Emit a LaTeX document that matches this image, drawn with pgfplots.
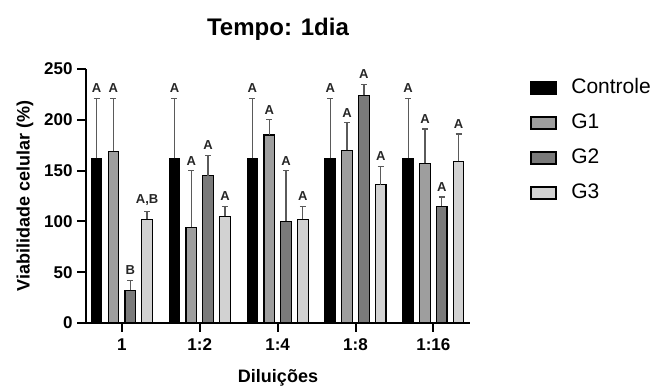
\documentclass[border=0pt]{standalone}
\usepackage{pgfplots}
\pgfplotsset{compat=1.18}
\usepackage{fontspec}
\setmainfont{Liberation Sans}
\definecolor{cG1}{HTML}{9E9E9E}
\definecolor{cG2}{HTML}{7A7A7A}
\definecolor{cG3}{HTML}{D2D2D2}
\definecolor{errc}{HTML}{5A5A5A}
\begin{document}
\begin{tikzpicture}
\useasboundingbox (0,0) rectangle (650pt,387pt);
\begin{axis}[
  at={(86pt,64pt)}, anchor=south west,
  scale only axis, width=384pt, height=254pt,
  xmin=-0.46, xmax=4.47, ymin=0, ymax=250,
  axis lines=left, axis line style={-, line width=2pt, black},
  xtick={0,1,2,3,4}, xticklabels={1,1:2,1:4,1:8,1:16},
  ytick={0,50,100,150,200,250},
  tick style={line width=2pt, black},
  tick align=outside, major tick length=9pt,
  /pgf/number format/assume math mode=true,
  ticklabel style={font=\fontsize{17}{20}\selectfont\bfseries},
  xticklabel style={yshift=-3pt},
  yticklabel style={xshift=-1pt},
  title={Tempo: 1dia},
  title style={font=\fontsize{24}{28}\selectfont\bfseries, at={(axis description cs:0.5,1)}, yshift=19pt},
  xlabel={Diluições},
  xlabel style={font=\fontsize{18}{21}\selectfont\bfseries, yshift=-12pt},
  ylabel={Viabilidade celular (\%)},
  ylabel style={font=\fontsize{18}{21}\selectfont\bfseries, yshift=4pt},
  legend style={at={(axis description cs:1.148,0.975)}, anchor=north west, draw=none, fill=none,
    font=\fontsize{21}{24}\selectfont, row sep=14pt,
    nodes={text height=14pt, text depth=3pt}},
  legend cell align=left,
  legend image code/.code={\draw[#1, line width=1.5pt] (0pt,-6pt) rectangle (25pt,6pt); \path (38pt,0pt);},
  error bars/y dir=plus, error bars/y explicit,
  error bars/error bar style={errc, line width=1.3pt},
  error bars/error mark options={errc, rotate=90, mark size=3pt, line width=1.3pt},
]
% Controle
\addplot[ybar, bar width=0.135, bar shift=0pt, fill=black, draw=black, line width=1.2pt]
 table[x=x, y=y, y error=e]{
x y e
-0.324 162 59
0.676 162 59
1.676 162 59
2.676 162 59
3.676 162 59
};
\addlegendentry{Controle}
% G1
\addplot[ybar, bar width=0.135, bar shift=0pt, fill=cG1, draw=black, line width=1.2pt]
 table[x=x, y=y, y error=e]{
x y e
-0.108 169 52
0.892 94 56
1.892 185 15
2.892 170 27
3.892 157 34
};
\addlegendentry{G1}
% G2
\addplot[ybar, bar width=0.135, bar shift=0pt, fill=cG2, draw=black, line width=1.2pt]
 table[x=x, y=y, y error=e]{
x y e
0.108 32 10
1.108 145 20
2.108 100 50
3.108 224 11
4.108 115 9
};
\addlegendentry{G2}
% G3
\addplot[ybar, bar width=0.135, bar shift=0pt, fill=cG3, draw=black, line width=1.2pt]
 table[x=x, y=y, y error=e]{
x y e
0.324 102 8
1.324 105 10
2.324 102 13
3.324 136 18
4.324 159 27
};
\addlegendentry{G3}
% letters
\addplot[draw=none, mark=none, forget plot, nodes near coords, point meta=explicit symbolic,
  every node near coord/.style={anchor=south, yshift=2pt, font=\fontsize{13}{14}\selectfont\bfseries, text=black!85}]
 table[x=x, y=y, meta=l]{
x y l
-0.324 221 A
0.676 221 A
1.676 221 A
2.676 221 A
3.676 221 A
-0.108 221 A
0.892 150 A
1.892 200 A
2.892 197 A
3.892 191 A
0.108 42 B
1.108 165 A
2.108 150 A
3.108 235 A
4.108 124 A
0.324 110 {A,B}
1.324 115 A
2.324 115 A
3.324 154 A
4.324 186 A
};
\end{axis}
\end{tikzpicture}
\end{document}
